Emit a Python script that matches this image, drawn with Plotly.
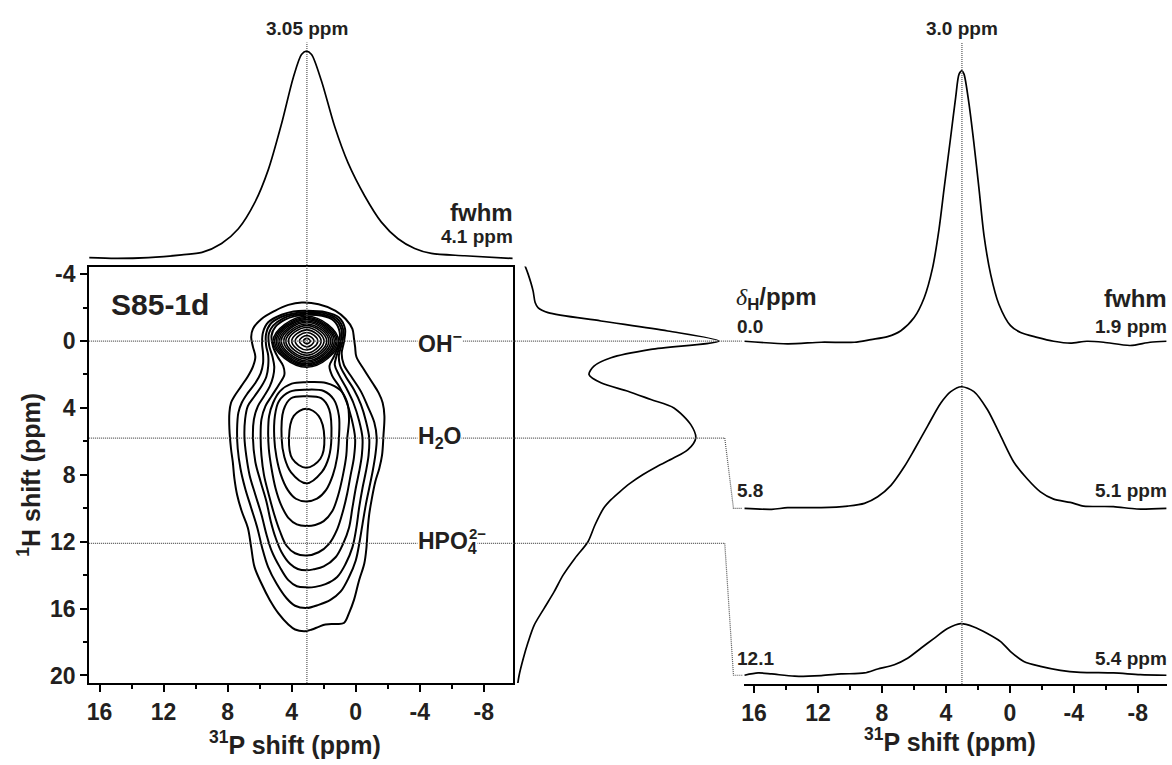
import plotly.graph_objects as go

W, HGT = 1172, 765
FONT = "Liberation Sans, Arial, sans-serif"

# ---------------- data ----------------
P_TICKS = [16, 12, 8, 4, 0, -4, -8]
P_MINOR = [14, 10, 6, 2, -2, -6]
H_TICKS = [-4, 0, 4, 8, 12, 16, 20]
H_MINOR = [-2, 2, 6, 10, 14, 18]

sample = "S85-1d"
peak_P_2d = 3.05
fwhm_2d = "4.1 ppm"
peak_P_1d = 3.0
delta_H = [0.0, 5.8, 12.1]
delta_lbl = ["0.0", "5.8", "12.1"]
fwhm_1d = ["1.9 ppm", "5.1 ppm", "5.4 ppm"]
species = ["OH<sup>−</sup>", "H<sub>2</sub>O", "HPO<sub>4</sub>"]
species_charge = ["", "", "2−"]

# 31P projection (top), relative intensity
top_P = [16.65, 15.0, 12.95, 10.87, 9.6, 8.38, 7.33, 6.3, 5.46, 4.63, 3.9, 3.39, 3.08,
         2.76, 2.14, 1.31, 0.48, -0.56, -1.6, -2.64, -3.68, -4.72, -6.8, -9.8]
top_I = [0.5, 0.1, 0.5, 1.8, 3.0, 7.3, 14.4, 27.1, 42.9, 65.1, 87.3, 98.4, 100,
         98.4, 85.6, 63.5, 46.1, 30.2, 17.6, 9.6, 4.9, 2.5, 1.4, 0.1]

# 1H projection (side), relative intensity
side_H = [-4.65, -4.0, -3.0, -2.3, -2.0, -1.7, -1.2, -0.6, 0.0, 0.5, 1.0, 1.5, 2.0, 2.5,
          3.0, 3.5, 4.0, 5.0, 5.8, 6.5, 7.0, 7.5, 8.0, 8.5, 9.0, 9.5, 10.0, 11.0, 12.0,
          13.0, 14.0, 15.0, 16.0, 17.0, 18.0, 19.0, 20.0, 20.8]
side_I = [5.3, 7.3, 9.7, 10.7, 12.1, 17.0, 42.7, 75.2, 100, 67.0, 47.6, 39.3, 36.9, 42.7,
          55.8, 67.0, 78.2, 86.4, 88.8, 85.0, 78.0, 70.0, 63.0, 57.0, 52.0, 47.5, 44.0,
          39.8, 36.4, 30.0, 24.3, 19.9, 15.0, 10.2, 7.3, 4.9, 2.9, 1.9]

# 31P slices at delta_H = 0.0, 5.8, 12.1 ppm (relative intensity)
s1_P = [16.6, 13.9, 11.8, 9.73, 8.69, 7.65, 6.82, 5.99, 5.36, 4.84, 4.43, 4.12, 3.7, 3.39,
        3.18, 3.0, 2.87, 2.56, 2.25, 1.93, 1.62, 1.2, 0.69, -0.04, -0.67, -1.7, -2.74,
        -3.78, -4.82, -5.86, -7.52, -8.77, -9.8]
s1_I = [0.36, -0.58, 0.0, 0.0, 0.98, 2.07, 4.25, 9.09, 16.4, 27.3, 41.8, 56.4, 75.8, 90.3,
        98.8, 100, 98.8, 87.9, 73.3, 56.4, 39.4, 24.9, 14.0, 6.1, 3.6, 1.8, 0.36,
        -0.36, 0.36, 0.0, -1.2, 0.0, 0.36]
s2_P = [16.6, 14.9, 13.9, 11.8, 10.14, 9.1, 8.27, 7.44, 6.61, 5.99, 5.15, 4.32, 3.7, 3.03,
        2.25, 1.41, 0.58, -0.25, -1.08, -1.91, -2.74, -3.78, -4.61, -6.48, -7.94, -9.8]
s2_I = [0.0, -0.36, 0.25, 0.25, 0.84, 1.82, 4.25, 8.47, 15.3, 21.5, 30.3, 38.8, 43.0, 44.8,
        43.0, 36.4, 26.7, 17.0, 10.9, 6.07, 3.38, 2.18, 0.84, 0.62, -0.25, 0.0]
s3_P = [16.6, 15.75, 14.9, 13.47, 11.8, 10.56, 9.1, 8.27, 7.23, 6.4, 5.57, 4.74, 3.9, 3.08,
        2.25, 1.41, 0.58, -0.04, -0.87, -1.91, -3.16, -4.4, -6.48, -8.15, -9.8]
s3_I = [0.0, 0.84, 0.47, -0.36, -0.11, 0.47, 0.84, 2.29, 3.89, 6.29, 9.93, 13.6, 17.2, 19.0,
        17.8, 15.4, 12.4, 8.73, 5.09, 3.27, 1.82, 1.09, 0.84, 0.25, 0.0]
slice_offset = [0.0, -61.2, -122.7]

# 2D contour lines (31P ppm, 1H ppm)
c1_P = [3.37, 2.32, 1.26, 0.63, 0.21, 0.11, 0.04, -0.04, -0.53, -1.05, -1.43, -1.68, -1.79, -1.73,
        -1.64, -1.47, -1.22, -1.01, -0.84, -0.74, -0.67, -0.53, -0.21, 0.11, 0.42, 0.74, 1.26,
        1.89, 2.32, 2.74, 3.16, 3.79, 4.21, 4.84, 5.37, 5.89, 6.32, 6.53, 6.74, 7.12, 7.41, 7.58,
        7.68, 7.79, 7.89, 7.89, 7.79, 7.58, 7.16, 6.74, 6.42, 6.27, 6.42, 6.53, 6.42, 5.89, 5.05,
        4.21, 3.37]
c1_H = [-2.30, -2.20, -1.81, -1.32, -0.73, -0.14, 0.35, 0.94, 1.73, 2.51, 3.10, 3.69, 4.48, 5.66,
        6.84, 7.62, 8.41, 9.39, 10.37, 11.36, 12.34, 13.32, 14.30, 15.48, 16.27, 16.86, 16.92,
        16.95, 17.09, 17.25, 17.35, 17.25, 16.95, 16.27, 15.48, 14.50, 13.52, 12.34, 11.16, 10.18,
        9.19, 8.21, 7.23, 6.44, 5.27, 4.28, 3.69, 3.30, 2.71, 2.12, 1.53, 0.94, 0.35, -0.24, -0.73,
        -1.32, -1.81, -2.16, -2.30]
c2_P = [3.09, 1.89, 1.05, 0.67, 0.74, 0.88, 0.74, 0.21, -0.32, -0.74, -1.16, -1.31, -1.22, -1.05,
        -0.84, -0.63, -0.42, -0.25, 0.00, 0.42, 0.95, 1.58, 2.32, 3.09, 3.79, 4.32, 4.95, 5.47,
        5.85, 6.15, 6.53, 6.91, 7.20, 7.37, 7.41, 7.33, 7.12, 6.74, 6.27, 5.94, 5.79, 5.79, 5.85,
        5.79, 5.47, 4.63, 3.89, 3.09]
c2_H = [-1.81, -1.73, -1.41, -0.73, 0.06, 0.75, 1.43, 2.22, 3.01, 3.89, 4.87, 5.80, 6.84, 7.82,
        8.80, 9.78, 10.96, 11.94, 13.12, 14.11, 14.99, 15.48, 15.78, 15.97, 15.83, 15.38, 14.50,
        13.52, 12.34, 11.16, 9.98, 8.80, 7.62, 6.44, 5.27, 4.28, 3.69, 3.10, 2.51, 1.93, 1.34,
        0.75, 0.16, -0.53, -1.12, -1.57, -1.77, -1.81]
c3_P = [3.09, 2.00, 1.16, 0.78, 0.84, 1.05, 0.99, 0.63, 0.11, -0.32, -0.63, -0.84, -0.80, -0.63,
        -0.42, -0.21, -0.04, 0.21, 0.63, 1.16, 1.89, 2.53, 3.09, 3.68, 4.21, 4.74, 5.26, 5.58,
        5.89, 6.27, 6.63, 6.84, 6.95, 6.91, 6.74, 6.32, 5.89, 5.58, 5.47, 5.47, 5.60, 5.60, 5.33,
        4.63, 3.89, 3.09]
c3_H = [-1.73, -1.67, -1.34, -0.67, 0.06, 0.84, 1.43, 2.12, 2.91, 3.79, 4.77, 5.80, 6.84, 7.82,
        8.80, 9.98, 11.16, 12.34, 13.32, 14.11, 14.54, 14.70, 14.73, 14.66, 14.30, 13.52, 12.53,
        11.55, 10.37, 9.19, 8.02, 6.84, 5.80, 4.68, 3.89, 3.30, 2.71, 2.12, 1.53, 0.84, 0.26,
        -0.43, -1.02, -1.45, -1.65, -1.73]
c4_P = [3.09, 2.06, 1.26, 0.88, 0.95, 1.20, 1.31, 1.05, 0.59, 0.15, -0.21, -0.42, -0.38, -0.21,
        0.00, 0.21, 0.42, 0.80, 1.26, 2.00, 2.63, 3.09, 3.62, 4.11, 4.63, 5.01, 5.31, 5.58, 5.94,
        6.27, 6.42, 6.36, 6.11, 5.73, 5.37, 5.16, 5.09, 5.20, 5.41, 5.43, 5.16, 4.53, 3.83, 3.09]
c4_H = [-1.65, -1.59, -1.28, -0.63, 0.12, 0.90, 1.43, 2.02, 2.81, 3.69, 4.77, 5.80, 6.84, 7.82,
        8.80, 9.98, 11.16, 12.14, 12.93, 13.48, 13.65, 13.71, 13.63, 13.32, 12.63, 11.75, 10.77,
        9.59, 8.41, 7.23, 5.80, 4.68, 3.89, 3.30, 2.71, 2.12, 1.53, 0.94, 0.26, -0.43, -0.92,
        -1.36, -1.57, -1.65]
c5_P = [3.09, 2.11, 1.37, 1.01, 1.05, 1.37, 1.64, 1.47, 1.01, 0.59, 0.25, 0.04, 0.11, 0.32, 0.53,
        0.80, 1.16, 1.68, 2.32, 3.09, 3.79, 4.32, 4.74, 5.09, 5.43, 5.73, 5.89, 5.94, 5.89, 5.64,
        5.26, 4.80, 4.46, 4.53, 4.88, 5.16, 5.26, 5.01, 4.42, 3.79, 3.09]
c5_H = [-1.57, -1.51, -1.22, -0.57, 0.16, 0.94, 1.49, 2.08, 2.75, 3.60, 4.68, 5.80, 6.94, 8.02,
        9.10, 10.18, 11.26, 12.14, 12.63, 12.83, 12.69, 12.24, 11.36, 10.37, 9.19, 8.02, 6.84,
        5.80, 4.68, 3.89, 3.30, 2.61, 2.02, 1.49, 0.94, 0.35, -0.33, -0.86, -1.28, -1.49, -1.57]
c6_P = [3.09, 1.85, 0.95, 0.53, 0.42, 0.53, 0.59, 0.80, 1.09, 1.47, 2.00, 2.53, 3.09, 3.68, 4.21,
        4.67, 5.01, 5.26, 5.43, 5.47, 5.41, 5.16, 4.74, 4.00, 3.09]
c6_H = [2.46, 2.51, 2.95, 3.69, 4.68, 5.80, 6.84, 8.02, 9.19, 10.18, 10.77, 11.00, 11.06, 10.96,
        10.57, 9.78, 8.80, 7.62, 6.44, 5.46, 4.48, 3.69, 3.01, 2.55, 2.46]
c7_P = [3.09, 2.00, 1.37, 1.05, 1.05, 1.16, 1.43, 1.85, 2.42, 3.09, 3.74, 4.25, 4.67, 4.95, 5.09,
        5.05, 4.80, 4.11, 3.09]
c7_H = [2.91, 2.99, 3.50, 4.48, 5.80, 6.94, 8.02, 8.90, 9.43, 9.59, 9.43, 8.90, 8.02, 6.94, 5.80,
        4.48, 3.60, 3.03, 2.91]
c8_P = [3.09, 2.16, 1.66, 1.52, 1.68, 2.11, 3.09, 4.04, 4.46, 4.63, 4.51, 4.04, 3.09]
c8_H = [3.30, 3.42, 4.09, 5.80, 6.94, 7.82, 8.51, 7.86, 6.94, 5.80, 4.13, 3.42, 3.30]
c9_P = [3.09, 2.32, 1.96, 2.21, 3.09, 3.96, 4.17, 3.87, 3.09]
c9_H = [4.05, 4.48, 5.80, 7.04, 7.58, 7.04, 5.80, 4.48, 4.05]

# concentric OH rings: extreme points of each ring around (OH_P, OH_H)
OH_P, OH_H = 3.05, 0.0
OH_top_H = [-0.16, -0.33, -0.51, -0.67, -0.81, -0.92, -1.02, -1.12, -1.20, -1.28, -1.35, -1.41, -1.48]
OH_bot_H = [0.17, 0.35, 0.54, 0.71, 0.85, 0.98, 1.08, 1.19, 1.27, 1.36, 1.42, 1.50, 1.57]
OH_left_P = [3.27, 3.52, 3.78, 4.00, 4.20, 4.37, 4.50, 4.65, 4.76, 4.87, 4.97, 5.07, 5.16]
OH_right_P = [2.84, 2.61, 2.37, 2.16, 1.98, 1.81, 1.68, 1.56, 1.45, 1.34, 1.25, 1.16, 1.07]

contours = [(c1_P, c1_H), (c2_P, c2_H), (c3_P, c3_H), (c4_P, c4_H), (c5_P, c5_H),
            (c6_P, c6_H), (c7_P, c7_H), (c8_P, c8_H), (c9_P, c9_H)]
slices = [(s1_P, s1_I), (s2_P, s2_I), (s3_P, s3_I)]

# ---------------- layout geometry (pixels) ----------------
LX0, LX1, LY0, LY1 = 87.3, 511.7, 265.0, 687.0       # 2D frame
TY0, TY1 = 30.0, 262.0                                # top projection band
SX0, SX1 = 512.0, 730.0                               # side projection band
RX0, RX1, RY0, RY1 = 743.0, 1166.7, 20.0, 688.0       # slices panel

P_RANGE = [16.65, -9.81]
H_RANGE = [20.45, -4.455]
TOP_RANGE = [-2.38, 107.94]
SIDE_RANGE = [0.0, 105.83]
R_RANGE = [-125.93, 116.98]


def xd(a, b):
    return [a / W, b / W]


def yd(top, bottom):
    return [1 - bottom / HGT, 1 - top / HGT]


def h_to_paper(h):
    d0, d1 = yd(LY0, LY1)
    return d0 + (h - H_RANGE[0]) / (H_RANGE[1] - H_RANGE[0]) * (d1 - d0)


def r_to_paper(v):
    d0, d1 = yd(RY0, RY1)
    return d0 + (v - R_RANGE[0]) / (R_RANGE[1] - R_RANGE[0]) * (d1 - d0)


fig = go.Figure()
LINE = dict(color="black", width=2, shape="spline", smoothing=1)

for cp, ch in contours:
    fig.add_trace(go.Scatter(x=cp, y=ch, mode="lines", line=LINE, hoverinfo="skip",
                             showlegend=False, xaxis="x", yaxis="y"))
for i in range(len(OH_top_H)):
    fig.add_trace(go.Scatter(
        x=[OH_P, OH_right_P[i], OH_P, OH_left_P[i], OH_P],
        y=[OH_top_H[i], OH_H, OH_bot_H[i], OH_H, OH_top_H[i]],
        mode="lines", line=dict(color="black", width=1.6, shape="spline", smoothing=1.3),
        hoverinfo="skip", showlegend=False, xaxis="x", yaxis="y"))

SPEC = dict(color="black", width=1.7, shape="spline", smoothing=0.8)
fig.add_trace(go.Scatter(x=top_P, y=top_I, mode="lines", line=SPEC,
                         showlegend=False, xaxis="x5", yaxis="y5"))
fig.add_trace(go.Scatter(x=side_I, y=side_H, mode="lines", line=SPEC,
                         showlegend=False, xaxis="x4", yaxis="y4"))
for (sp, si), off in zip(slices, slice_offset):
    fig.add_trace(go.Scatter(x=sp, y=[v + off for v in si], mode="lines", line=SPEC,
                             showlegend=False, xaxis="x3", yaxis="y3"))

TICKFONT = dict(family=FONT, size=23, color="#231f20")
TK = dict(ticklen=7, tickwidth=2, tickcolor="black")
MINOR_TK = dict(ticklen=4, tickwidth=2, tickcolor="black", showgrid=False)
tt = [f"<b>{v}</b>" for v in P_TICKS]
ht = [f"<b>{v}</b>" for v in H_TICKS]

fig.update_layout(
    width=W, height=HGT, margin=dict(l=0, r=0, t=0, b=0, pad=0),
    paper_bgcolor="white", plot_bgcolor="rgba(0,0,0,0)", showlegend=False,
    xaxis=dict(domain=xd(LX0, LX1), range=P_RANGE, anchor="y", tickmode="array",
               tickvals=P_TICKS, ticktext=tt, ticks="outside", **TK, showline=True,
               linewidth=2, linecolor="black", mirror=True, showgrid=False, zeroline=False,
               tickfont=TICKFONT,
               minor=dict(tickmode="array", tickvals=P_MINOR, ticks="outside", **MINOR_TK)),
    yaxis=dict(domain=yd(LY0, LY1), range=H_RANGE, anchor="x", tickmode="array",
               tickvals=H_TICKS, ticktext=ht, ticks="outside", **TK, showline=True,
               linewidth=2, linecolor="black", mirror=True, showgrid=False, zeroline=False,
               tickfont=TICKFONT,
               minor=dict(tickmode="array", tickvals=H_MINOR, ticks="outside", **MINOR_TK)),
    xaxis2=dict(overlaying="x", side="top", anchor="y", range=P_RANGE, tickmode="array",
                tickvals=P_TICKS, ticks="inside", **TK, showticklabels=False,
                showgrid=False, zeroline=False, showline=False,
                minor=dict(tickmode="array", tickvals=P_MINOR, ticks="inside", **MINOR_TK)),
    yaxis2=dict(overlaying="y", side="right", anchor="x", range=H_RANGE, tickmode="array",
                tickvals=H_TICKS, ticks="inside", **TK, showticklabels=False,
                showgrid=False, zeroline=False, showline=False,
                minor=dict(tickmode="array", tickvals=H_MINOR, ticks="inside", **MINOR_TK)),
    xaxis3=dict(domain=xd(RX0, RX1), range=P_RANGE, anchor="y3", tickmode="array",
                tickvals=P_TICKS, ticktext=tt, ticks="outside", **TK, showline=True,
                linewidth=2, linecolor="black", showgrid=False, zeroline=False,
                tickfont=TICKFONT,
                minor=dict(tickmode="array", tickvals=P_MINOR, ticks="outside", **MINOR_TK)),
    yaxis3=dict(domain=yd(RY0, RY1), range=R_RANGE, anchor="x3", visible=False),
    xaxis4=dict(domain=xd(SX0, SX1), range=SIDE_RANGE, anchor="y4", visible=False),
    yaxis4=dict(domain=yd(LY0, LY1), range=H_RANGE, anchor="x4", visible=False),
    xaxis5=dict(domain=xd(LX0, LX1), range=P_RANGE, anchor="y5", visible=False),
    yaxis5=dict(domain=yd(TY0, TY1), range=TOP_RANGE, anchor="x5", visible=False),
)

DOT = dict(color="#555555", width=1.2, dash="1px,1px")
shapes = [
    dict(type="line", xref="x", yref="paper", x0=peak_P_2d, x1=peak_P_2d,
         y0=yd(38, LY1)[0], y1=yd(38, LY1)[1], line=DOT),
    dict(type="line", xref="x3", yref="paper", x0=peak_P_1d, x1=peak_P_1d,
         y0=yd(38, RY1)[0], y1=yd(38, RY1)[1], line=DOT),
]
ends = [741.0 / W, 724.0 / W, 724.0 / W]
for k, h in enumerate(delta_H):
    shapes.append(dict(type="line", xref="paper", yref="y", x0=LX0 / W, x1=ends[k],
                       y0=h, y1=h, line=DOT))
    if k > 0:
        yb = r_to_paper(slice_offset[k])
        shapes.append(dict(type="path", xref="paper", yref="paper", line=DOT,
                           path=f"M {ends[k]} {h_to_paper(h)} L {732.7 / W} {yb} L {741.7 / W} {yb}"))
fig.update_layout(shapes=shapes)


def ann(text, x, y, size, xanchor="left", xref="paper", bg=None, angle=0):
    a = dict(text=f"<b>{text}</b>", x=x, y=1 - y / HGT, xref=xref, yref="paper",
             showarrow=False, xanchor=xanchor, yanchor="middle", textangle=angle,
             font=dict(family=FONT, size=size, color="#231f20"))
    if bg:
        a.update(bgcolor=bg, borderpad=0)
    return a


anns = [
    ann(f"{peak_P_2d:.2f} ppm", peak_P_2d, 24, 19, "center", "x"),
    ann(f"{peak_P_1d:.1f} ppm", peak_P_1d, 24, 19, "center", "x3"),
    ann("fwhm", 514 / W, 210, 24, "right"),
    ann(fwhm_2d, 514 / W, 235, 19, "right"),
    ann(sample, 107 / W, 303, 30),
    ann("<sup>31</sup>P shift (ppm)", 294 / W, 748, 25, "center"),
    ann("<sup>31</sup>P shift (ppm)", 950 / W, 745, 25, "center"),
    ann("<sup>1</sup>H shift (ppm)", 27 / W, 476, 25, "center", angle=-90),
    ann('<span style="font-family:\'Liberation Serif\';font-weight:normal"><i>δ</i></span>'
        '<sub>H</sub>/ppm', 733 / W, 297, 24),
    ann("fwhm", 1169 / W, 297, 24, "right"),
]
label_y = [341, 438, 545]
for k in range(3):
    anns.append(ann(species[k], 416 / W, label_y[k], 23, bg="white"))
    if species_charge[k]:
        anns.append(ann(species_charge[k], 466 / W, label_y[k] - 10, 15))
slice_lbl_y = [326, 492, 662]
for k in range(3):
    anns.append(ann(delta_lbl[k], 734 / W, slice_lbl_y[k], 19))
    anns.append(ann(fwhm_1d[k], 1169 / W, slice_lbl_y[k], 19, "right"))
fig.update_layout(annotations=anns)

fig.write_html("out.html")
